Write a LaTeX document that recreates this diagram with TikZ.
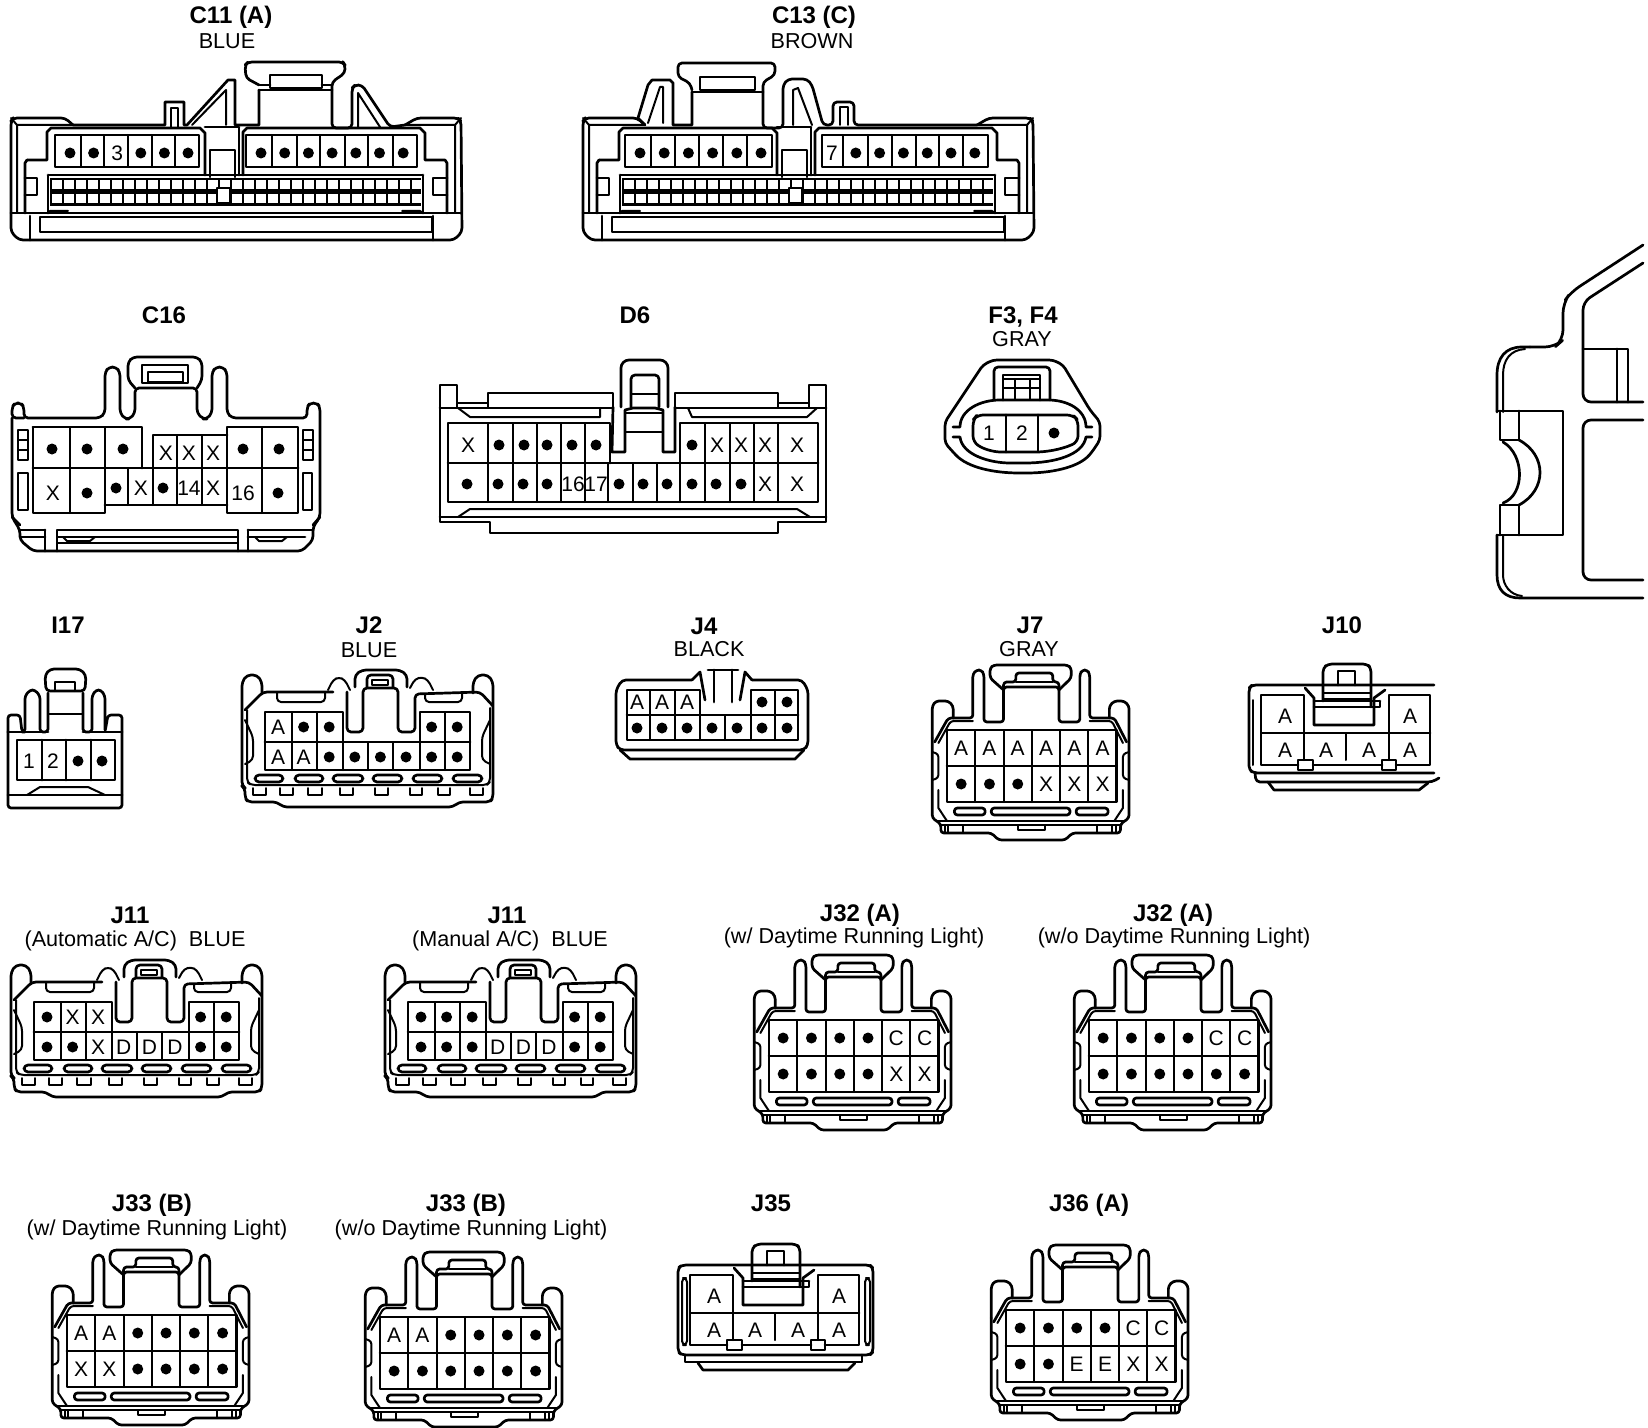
\documentclass[tikz,border=0pt]{standalone}
\usepackage{fontspec}
\setmainfont{Liberation Sans}
\tikzset{
part/.style={line width=1.35pt, line join=round, line cap=round},
detail/.style={line width=1pt, line join=round, line cap=round},
pinlab/.style={inner sep=0pt, font=\fontsize{10.5}{10.5}\selectfont},
pindot/.style={circle, fill=black, inner sep=0pt, minimum size=5.5pt},
ttl/.style={inner sep=0pt, font=\bfseries\fontsize{12}{12}\selectfont},
subttl/.style={inner sep=0pt, font=\fontsize{10.8}{10.8}\selectfont}
}
% o is a dot, - leaves the cell empty
\def\pinskip{-}
\def\pinmark{o}
\newcommand{\pinat}[4]{
\edef\lab{#4}
\ifx\lab\pinskip\else
\ifx\lab\pinmark \node[pindot] (#1) at (#2,#3) {};
\else \node[pinlab] (#1) at (#2,#3) {\lab};
\fi\fi
}
% name, y, x of first, pitch, labels
\newcommand{\pinrow}[5]{
\foreach \t [count=\n from 0] in {#5}
{	\pgfmathsetmacro{\px}{#3+#4*\n}
	\pinat{#1\n}{\px}{#2}{\t}
}
}
% name, y, x/label list
\newcommand{\pinlist}[3]{
\foreach \x/\t [count=\n] in {#3}
{	\pinat{#1\n}{\x}{#2}{\t}
}
}
% the six by two housing
\newcommand{\jsix}[5]{
\begin{scope}[shift={(#2,#3)},xscale=1.23]
\draw[part] (0,0) rectangle (138,72);
\draw[part] (0,36)--(138,36);
\foreach \i in {1,...,5}
{	\draw[detail] (23*\i,0)--(23*\i,72);
}
\begin{scope}[rounded corners=1.5pt]
\draw[part] (-12,8)--(-12,-24)--(-9,-29)--(1,-29)--(5,-24)--(5,-12);
\draw[part] (132,-12)--(132,-24)--(136,-29)--(144,-29)--(148,-24)--(148,88)--(141,94)--(141,103)--(102,103)--(96,110)--(42,110)--(36,103)--(-5,103)--(-5,94)--(-12,88)--(-12,8);
\draw[part] (-10,12)--(1,-12)--(21,-12)--(21,-56)--(24,-60)--(28,-60)--(30,-56)--(30,-8)--(46,-8)--(46,-43)--(91,-43)--(91,-8)--(108,-8)--(108,-56)--(110,-60)--(114,-60)--(116,-56)--(116,-12)--(136,-12)--(146,12);
\draw[part] (46,-40)--(35,-52)--(35,-62)--(38,-65)--(98,-65)--(101,-62)--(101,-52)--(91,-40);
\draw[part] (46,-43)--(46,-48)--(56,-48)--(56,-57)--(86,-57)--(86,-48)--(91,-48)--(91,-43);
\draw[detail] (56,-48)--(86,-48);
\draw[detail] (-7,13)--(3,-9)--(21,-9);
\draw[detail] (116,-9)--(134,-9)--(143,13);
\draw[detail] (-12,22)--(-7,24)--(-7,48)--(-12,50);
\draw[detail] (148,22)--(143,24)--(143,48)--(148,50);
\draw[part] (6,78) rectangle (31,85);
\draw[part] (36,78) rectangle (100,85);
\draw[part] (105,78) rectangle (131,85);
\end{scope}
\draw[part] (-8,91)--(144,91);
\draw[detail] (-7,60)--(-7,78)--(0,91);
\draw[detail] (143,60)--(143,78)--(136,91);
\draw[detail] (-5,95)--(141,95);
\foreach \i in {-2,1,13,122,134,137}
{	\draw[detail] (\i,95)--(\i,103);
}
\draw[detail] (58,95)--(58,100)--(80,100)--(80,95);
\pinrow{#1a}{18}{11.5}{23}{#4}
\pinrow{#1b}{54}{11.5}{23}{#5}
\end{scope}
}
% the eight by two housing with the notch
\newcommand{\jeight}[5]{
\begin{scope}[shift={(#2,#3)}]
\draw[part] (0,0)--(78,0)--(78,30)--(155,30)--(155,0)--(205,0)--(205,58)--(0,58)--cycle;
\draw[part] (0,30)--(78,30) (155,30)--(205,30);
\foreach \i in {27,52,180}
{	\draw[detail] (\i,0)--(\i,58);
}
\foreach \i in {103,128,155}
{	\draw[detail] (\i,30)--(\i,58);
}
\draw[detail] (78,30)--(78,58);
\begin{scope}[rounded corners=2pt]
\draw[part] (-3,-19)--(-3,-30)--(-8,-37)--(-18,-37)--(-23,-30)--(-23,74)--(-20,76)--(-20,86)--(-17,90)--(12,90)--(18,95)--(188,95)--(194,90)--(225,90)--(228,86)--(228,76)--(228,-30)--(223,-37)--(213,-37)--(208,-30)--(208,-19);
\draw[part] (-20,-2)--(-2,-20)--(68,-20);
\draw[part] (82,-20)--(82,20)--(98,20)--(98,-24)--(133,-24)--(133,20)--(150,20)--(150,-18)--(215,-20)--(228,-6);
\draw[part] (90,-25)--(90,-37)--(97,-42)--(135,-42)--(142,-37)--(142,-25);
\draw[part] (102,-25)--(102,-37)--(128,-37)--(128,-25);
\draw[detail] (63,-22)--(68,-32)--(74,-35)--(80,-32)--(85,-22);
\draw[detail] (145,-24)--(150,-33)--(157,-35)--(163,-32)--(168,-22);
\draw[detail] (-18,-2)--(-18,70)--(-14,73)--(222,73)--(225,70)--(225,-4);
\draw[detail] (-20,8)--(-12,25)--(-12,48)--(-20,52);
\draw[detail] (225,8)--(217,25)--(217,48)--(225,52);
\foreach \a/\b in {-10/18,30/58,68/98,108/137,148/177,188/217}
{	\draw[part] (\a,63) rectangle (\b,70);
}
\draw[detail] (12,-20)--(12,-10)--(60,-10)--(60,-20);
\draw[detail] (160,-18)--(160,-10)--(197,-10)--(197,-18);
\end{scope}
\draw[detail] (107,-32) rectangle (123,-27);
\foreach \a/\b in {-12/1,15/28,43/57,75/88,110/123,145/157,173/185,205/218}
{	\draw[detail] (\a,76)--(\a,83)--(\b,83)--(\b,76);
}
\pinrow{#1a}{15}{13}{25.6}{#4}
\pinrow{#1b}{45}{13}{25.6}{#5}
\end{scope}
}
% the four plus two housing, the outer wall is drawn per connector
\newcommand{\jfour}[3]{
\begin{scope}[shift={(#2,#3)}]
\draw[part] (12,48)--(12,10)--(55,10)--(55,48);
\draw[part] (140,48)--(140,10)--(181,10)--(181,80)--(147,80);
\draw[part] (133,80)--(64,80) (49,80)--(12,80)--(12,48)--(181,48);
\foreach \i in {55,97,140}
{	\draw[detail] (\i,48)--(\i,75);
}
\draw[part] (49,75) rectangle (64,85);
\draw[part] (133,75) rectangle (147,85);
\draw[part] (56,3)--(65,13)--(65,40)--(125,40)--(125,13)--(136,5);
\draw[part] (65,16)--(131,16) (65,22)--(131,22)--(131,16);
\draw[part,rounded corners=2pt] (74,16)--(74,-17)--(79,-21)--(118,-21)--(122,-17)--(122,22);
\draw[part] (89,0)--(89,-14)--(106,-14)--(106,0);
\draw[detail] (74,0)--(122,0) (74,8)--(122,8) (74,14)--(122,14);
\pinlist{#1a}{31}{36/A,161/A}
\pinlist{#1b}{65}{36/A,77/A,120/A,161/A}
\end{scope}
}
% body of the long connector, the part above the shelf is drawn per connector
\newcommand{\ecubase}[1]{
\begin{scope}[shift={(#1,0)}]
\draw[part,rounded corners=2pt] (73,125)--(65,118)--(13,118)--(11,121)--(11,232)--(19,240)--(454,240)--(462,232)--(461,121)--(458,118)--(417,118)--(405,125);
\draw[detail] (11,118)--(17,125)--(73,125) (17,125)--(17,213);
\draw[detail] (461,118)--(455,125)--(405,125) (455,125)--(455,213);
\draw[part] (27,160)--(47,160)--(47,132)--(51,128)--(200,128)--(205,133)--(205,175);
\draw[part] (27,160)--(25,163)--(25,213);
\draw[part] (239,127)--(205,127) (239,127)--(239,175);
\draw[part] (243,175)--(243,132)--(247,128)--(420,128)--(425,133)--(425,160)--(445,160)--(447,163)--(447,213);
\draw[part] (48,175)--(423,175) (48,175)--(48,213) (423,175)--(423,213);
\draw[part] (210,177)--(210,150)--(235,150)--(235,177);
\draw[part] (25,178)--(37,178)--(37,195)--(25,195);
\draw[part] (447,178)--(433,178)--(433,195)--(447,195);
\fill (50,178) rectangle (421,206);
\foreach \i in {0,...,30}
{	\fill[white] (52+12*\i,180) rectangle +(9.5,9.5);
	\fill[white] (52+12*\i,194) rectangle +(9.5,9.5);
}
\draw[part,fill=white] (217,188) rectangle (230,203);
\draw[part] (11,213)--(461,213);
\draw[detail] (48,213)--(50,211)--(68,211);
\draw[detail] (423,213)--(420,211)--(402,211);
\draw[part] (30,216)--(30,240) (433,216)--(433,240);
\draw[part] (40,217) rectangle (432,232);
\end{scope}
}
\newcommand{\cellbar}[3]{
\draw[part] (#1,135) rectangle (#2,167);
\foreach \i in {#3}
{	\draw[detail] (\i,135)--(\i,167);
}
}
\begin{document}
\begin{tikzpicture}[x=.5pt,y=-.5pt]
\fill[white] (0,0) rectangle (1648,1428);
\useasboundingbox (0,0) rectangle (1648,1428);
\node[ttl] (c11t) at (231,17) {C11 (A)};
\node[subttl] (c11s) at (227,41) {BLUE};
\node[ttl] (c13t) at (814,17) {C13 (C)};
\node[subttl] (c13s) at (812,41) {BROWN};
\node[ttl] (c16t) at (164,315) {C16};
\node[ttl] (d6t) at (635,315) {D6};
\node[ttl] (f3t) at (1023,317) {F3, F4};
\node[subttl] (f3s) at (1022,339) {GRAY};
\node[ttl] (i17t) at (68,625) {I17};
\node[ttl] (j2t) at (369,625) {J2};
\node[subttl] (j2s) at (369,650) {BLUE};
\node[ttl] (j4t) at (704,626) {J4};
\node[subttl] (j4s) at (709,649) {BLACK};
\node[ttl] (j7t) at (1030,625) {J7};
\node[subttl] (j7s) at (1029,649) {GRAY};
\node[ttl] (j10t) at (1342,625) {J10};
\node[ttl] (j11at) at (130,915) {J11};
\node[subttl] (j11as) at (135,941) {(Automatic A/C)\ \ BLUE};
\node[ttl] (j11bt) at (507,915) {J11};
\node[subttl] (j11bs) at (510,941) {(Manual A/C)\ \ BLUE};
\node[ttl] (j32at) at (860,915) {J32 (A)};
\node[subttl] (j32as) at (854,938) {(w/ Daytime Running Light)};
\node[ttl] (j32bt) at (1173,915) {J32 (A)};
\node[subttl] (j32bs) at (1174,938) {(w/o Daytime Running Light)};
\node[ttl] (j33at) at (152,1205) {J33 (B)};
\node[subttl] (j33as) at (157,1230) {(w/ Daytime Running Light)};
\node[ttl] (j33bt) at (466,1205) {J33 (B)};
\node[subttl] (j33bs) at (471,1230) {(w/o Daytime Running Light)};
\node[ttl] (j35t) at (771,1203) {J35};
\node[ttl] (j36t) at (1089,1205) {J36 (A)};
% C11
\ecubase{0}
\draw[part] (73,125)--(165,125)--(165,102)--(184,102)--(184,125)--(187,125)--(228,80)--(235,80)--(235,125)--(259,125)--(259,90);
\draw[part,rounded corners=2pt] (259,85)--(246,78)--(245,65)--(248,62)--(343,62)--(345,65)--(345,73)--(332,82)--(332,128)--(352,128)--(352,88)--(355,85)--(362,85)--(390,127)--(405,125);
\draw[detail] (192,125)--(226,90)--(226,125) (358,127)--(358,93)--(380,127);
\draw[detail] (171,127)--(171,108)--(178,108)--(178,127);
\draw[part] (270,75) rectangle (322,88);
\draw[part] (259,90)--(332,90) (259,85)--(270,85) (322,85)--(332,85);
\cellbar{55}{199}{81,104,128,152,175}
\cellbar{246}{417}{272,297,320,345,368,393}
\pinrow{c11a}{153}{70}{23.6}{o,o,3,o,o,o}
\pinrow{c11b}{153}{261}{23.7}{o,o,o,o,o,o,o}
% C13
\ecubase{572}
\draw[part] (645,125)--(638,118)--(648,85)--(652,80)--(670,80)--(673,83)--(673,125)--(692,125)--(692,92);
\draw[part,rounded corners=2pt] (692,90)--(690,83)--(678,77)--(678,63)--(775,63)--(775,75)--(763,82)--(763,128)--(783,128)--(783,85)--(788,79)--(807,79)--(812,85)--(823,125)--(833,125)--(833,102)--(854,102)--(854,125)--(977,125);
\draw[detail] (648,123)--(660,87)--(663,87)--(663,123);
\draw[detail] (793,125)--(793,90)--(798,88)--(812,125);
\draw[detail] (840,125)--(840,107)--(848,107)--(848,125);
\draw[part] (700,77) rectangle (755,90);
\draw[part] (692,92)--(763,92);
\cellbar{625}{772}{651,675,699,723,747}
\cellbar{822}{988}{843,868,892,916,939,963}
\pinrow{c13a}{153}{640}{24.2}{o,o,o,o,o,o}
\pinrow{c13b}{153}{832}{23.8}{7,o,o,o,o,o,o}
% C16
\draw[part,rounded corners=2pt] (24,418)--(12,418)--(12,407)--(15,403)--(21,403)--(24,407)--(24,418)--(100,418)--(105,413)--(105,372)--(109,367)--(116,367)--(120,372)--(120,413)--(125,419)--(130,419)--(135,413)--(135,388)--(197,388)--(197,413)--(203,419)--(207,419)--(212,413)--(212,372)--(216,367)--(223,367)--(227,372)--(227,413)--(232,418)--(307,418)--(307,407)--(310,403)--(317,403)--(320,407)--(320,517)--(313,527)--(313,540)--(302,551)--(33,551)--(20,540)--(20,530)--(12,517)--(12,418);
\draw[part,rounded corners=2pt] (135,388)--(128,380)--(128,362)--(133,357)--(197,357)--(202,362)--(202,380)--(197,388);
\draw[part] (142,383)--(142,365)--(188,365)--(188,383)--cycle;
\draw[part] (148,372) rectangle (183,382);
\draw[part] (33,427) rectangle (105,513);
\draw[part] (33,427)--(142,427)--(142,468);
\draw[part] (153,468)--(153,435)--(227,435);
\draw[part] (227,427) rectangle (298,513);
\draw[part] (33,468)--(298,468);
\draw[part] (105,505)--(227,505);
\draw[detail] (70,427)--(70,513) (262,427)--(262,513) (105,427)--(105,468);
\foreach \i in {128,153,177,202}
{	\draw[detail] (\i,468)--(\i,505);
}
\draw[detail] (177,435)--(177,468) (202,435)--(202,468);
\pinlist{c16a}{449}{52/o,87/o,123/o,243/o,279/o}
\pinlist{c16b}{453}{166/X,189/X,213/X}
\pinlist{c16c}{493}{53/X,87/o,243/16,278/o}
\pinlist{c16d}{488}{116/o,141/X,163/o,189/14,213/X}
\draw[detail] (18,430) rectangle (28,460) (18,440)--(28,440) (18,450)--(28,450);
\draw[detail] (303,430) rectangle (313,460) (303,440)--(313,440) (303,450)--(313,450);
\draw[part] (18,473) rectangle (28,510);
\draw[part] (303,473) rectangle (312,510);
\draw[part] (12,517)--(20,525) (320,517)--(313,525);
\draw[part] (20,530)--(45,530) (20,537)--(45,537);
\draw[part] (313,530)--(248,530) (305,537)--(248,537);
\draw[part] (45,530)--(45,551) (248,530)--(248,551);
\draw[part] (57,551)--(57,530)--(238,530)--(238,551);
\draw[detail] (57,537)--(238,537) (57,543)--(238,543);
\draw[detail] (63,537)--(67,541)--(90,541)--(95,537);
\draw[detail] (255,537)--(259,541)--(282,541)--(287,537);
% D6
\draw[part] (457,407)--(457,385)--(440,385)--(440,522)--(490,522)--(490,533)--(778,533)--(778,522)--(826,522)--(826,385)--(809,385)--(809,407);
\draw[part] (440,408)--(613,408) (675,408)--(826,408);
\draw[part] (488,407)--(488,393)--(613,393)--(613,407);
\draw[part] (675,407)--(675,393)--(778,393)--(778,407);
\draw[detail] (457,403)--(488,403) (778,403)--(809,403);
\draw[detail] (458,408)--(470,417)--(600,417)--(600,408);
\draw[detail] (688,408)--(692,417)--(807,417)--(817,408);
\draw[part,rounded corners=4pt] (621,407)--(621,360)--(668,360)--(668,407);
\draw[part,rounded corners=2pt] (631,407)--(631,375)--(659,375)--(659,407);
\draw[detail] (631,394)--(659,394) (625,413)--(663,413) (625,432)--(663,432);
\draw[part] (613,407)--(612,452)--(625,452)--(625,410)--(633,408)--(655,408)--(663,410)--(663,452)--(675,452)--(675,407);
\draw[part] (610,463)--(610,423)--(448,423)--(448,502)--(818,502)--(818,423)--(680,423)--(680,463);
\draw[part] (448,463)--(610,463) (680,463)--(818,463) (610,463)--(680,463);
\foreach \i in {488,513,537,561,585,705,730,754,778}
{	\draw[detail] (\i,423)--(\i,502);
}
\foreach \i in {608,633,657,680}
{	\draw[detail] (\i,463)--(\i,502);
}
\pinlist{d6a}{445}{468/X,499/o,524/o,547/o,572/o,596/o,692/o,717/X,741/X,765/X,797/X}
\pinlist{d6b}{484}{467/o,498/o,523/o,547/o,573/16,596/17,619/o,643/o,667/o,692/o,716/o,741/o,765/X,797/X}
\draw[part] (440,517)--(826,517);
\draw[detail] (458,517)--(470,509)--(797,509)--(810,517);
% F3, F4
\begin{scope}[shift={(920,300)}]
\draw[part,rounded corners=2pt] (63,65)--(73,60)--(133,60)--(143,65)--(170,110)--(180,122)--(180,140)--(172,152) .. controls (158,168) and (130,173) .. (103,173) .. controls (75,173) and (48,168) .. (33,152)--(25,143)--(25,122)--(33,110)--cycle;
\draw[part] (33,127)--(40,127) .. controls (40,110) and (60,100) .. (80,100)--(128,100) .. controls (148,100) and (166,110) .. (166,127)--(172,127);
\draw[part] (33,137)--(40,137) .. controls (42,155) and (70,163) .. (90,163)--(105,163) .. controls (135,163) and (163,155) .. (166,137)--(172,137);
\draw[part,rounded corners=3pt] (53,120)--(57,115)--(153,115)--(158,120)--(158,142) .. controls (140,150) and (125,152) .. (110,152)--(87,152) .. controls (75,152) and (65,150) .. (53,142)--cycle;
\draw[part] (86,115)--(86,152) (118,115)--(118,151);
\draw[part,rounded corners=2pt] (74,100)--(74,67)--(130,67)--(130,100);
\draw[part] (83,100)--(83,75)--(120,75)--(120,100);
\draw[detail] (83,79)--(120,79) (83,88)--(120,88) (95,79)--(95,100) (110,79)--(110,100);
\pinlist{f3a}{133}{69/1,102/2,134/o}
\end{scope}
% big housing at the right edge
\draw[part,rounded corners=5pt] (1643,245)--(1571,292)--(1563,303)--(1563,340)--(1555,347)--(1530,347);
\draw[part] (1530,347)--(1522,347) .. controls (1505,347) and (1497,358) .. (1497,375)--(1497,412);
\draw[part] (1497,535)--(1497,575) .. controls (1497,590) and (1505,598) .. (1520,598)--(1643,598);
\draw[detail] (1503,412)--(1503,375) .. controls (1503,360) and (1510,350) .. (1525,349);
\draw[detail] (1503,535)--(1503,575) .. controls (1503,585) and (1510,595) .. (1522,596);
\draw[part] (1497,411)--(1563,411)--(1563,535)--(1497,535);
\draw[part] (1500,411)--(1500,440)--(1519,440)--(1519,411);
\draw[part] (1500,535)--(1500,505)--(1519,505)--(1519,535);
\draw[part] (1503,442) .. controls (1525,455) and (1525,495) .. (1503,503);
\draw[part] (1519,440) .. controls (1547,455) and (1547,490) .. (1519,505);
\draw[part,rounded corners=4pt] (1643,263)--(1583,302)--(1583,402)--(1643,402);
\draw[part] (1583,349)--(1628,349)--(1628,402) (1617,349)--(1617,402);
\draw[part,rounded corners=4pt] (1643,420)--(1583,420)--(1583,580)--(1643,580);
% I17
\draw[part,rounded corners=1.5pt] (8,732)--(8,715)--(20,715)--(22,732)--(25,732)--(25,696)--(30,690)--(35,690)--(40,696)--(40,732)--(48,732)--(48,693);
\draw[part,rounded corners=1.5pt] (83,693)--(83,732)--(92,732)--(92,696)--(96,690)--(101,690)--(105,696)--(105,732)--(108,715)--(122,715)--(122,808)--(8,808)--(8,732);
\draw[part,rounded corners=2pt] (46,691)--(45,675)--(50,669)--(80,669)--(86,675)--(85,691)--cycle;
\draw[detail] (55,691)--(55,682)--(75,682)--(75,691) (48,714)--(83,714);
\draw[part] (8,732)--(48,732) (83,732)--(122,732);
\draw[part] (17,740) rectangle (115,780);
\foreach \i in {42,66,91}
{	\draw[part] (\i,740)--(\i,780);
}
\pinlist{i17a}{761}{29/1,53/2,78/o,102/o}
\draw[part] (8,795)--(122,795);
\draw[detail] (27,795)--(40,787)--(88,787)--(105,795);
% J2, J11
\jeight{j2p}{265}{712}{A,o,o,-,-,-,o,o}{A,A,o,o,o,o,o,o}
\jeight{j11ap}{34}{1002}{o,X,X,-,-,-,o,o}{o,o,X,D,D,D,o,o}
\jeight{j11bp}{408}{1002}{o,o,o,-,-,-,o,o}{o,o,o,D,D,D,o,o}
% J4
\draw[part,rounded corners=2pt] (692,680)--(622,680)--(616,690)--(616,745)--(620,750)--(804,750)--(808,745)--(808,690)--(802,680)--(752,680);
\draw[part] (627,690)--(700,690)--(700,715)--(751,715)--(751,690)--(798,690)--(798,740)--(627,740)--cycle;
\draw[part] (627,715)--(700,715) (751,715)--(798,715);
\foreach \i in {650,675,700,725,751,775}
{	\draw[detail] (\i,715)--(\i,740);
}
\draw[detail] (650,690)--(650,715) (675,690)--(675,715) (775,690)--(775,715);
\draw[part] (692,680)--(700,672)--(705,700) (752,680)--(745,672)--(740,700);
\draw[part] (708,670)--(738,670) (714,670)--(714,702) (732,670)--(732,702);
\pinrow{j4a}{702}{637}{25}{A,A,A,-,-,o,o}
\pinrow{j4b}{728}{637}{25}{o,o,o,o,o,o,o}
\draw[part] (620,750)--(630,759)--(795,759)--(804,750);
% J7, J32, J33, J36
\jsix{j7p}{947}{730}{A,A,A,A,A,A}{o,o,o,X,X,X}
\jsix{j32ap}{769}{1020}{o,o,o,o,C,C}{o,o,o,o,X,X}
\jsix{j32bp}{1089}{1020}{o,o,o,o,C,C}{o,o,o,o,o,o}
\jsix{j33ap}{67}{1315}{A,A,o,o,o,o}{X,X,o,o,o,o}
\jsix{j33bp}{380}{1317}{A,A,o,o,o,o}{o,o,o,o,o,o}
\jsix{j36p}{1006}{1310}{o,o,o,o,C,C}{o,o,E,E,X,X}
% J10 is cut off on the right
\jfour{j10p}{1249}{685}
\draw[part,rounded corners=2pt] (1434,685)--(1252,685)--(1249,688)--(1249,770)--(1254,773)--(1434,773);
\draw[detail,rounded corners=2pt] (1253,700)--(1253,765);
\draw[part,rounded corners=2pt] (1255,773)--(1256,782)--(1432,782)--(1439,778);
\draw[part] (1268,782)--(1274,790)--(1419,790)--(1428,783);
% J35
\jfour{j35p}{678}{1265}
\draw[part,rounded corners=2pt] (682,1265)--(870,1265)--(873,1268)--(873,1352)--(870,1355)--(682,1355)--(678,1352)--(678,1268)--cycle;
\draw[detail,rounded corners=2pt] (682,1278) rectangle (687,1345);
\draw[detail,rounded corners=2pt] (865,1278) rectangle (870,1345);
\draw[part] (685,1355)--(685,1362)--(862,1362)--(862,1355);
\draw[part] (698,1363)--(703,1370)--(848,1370)--(855,1363);
\end{tikzpicture}
\end{document}
